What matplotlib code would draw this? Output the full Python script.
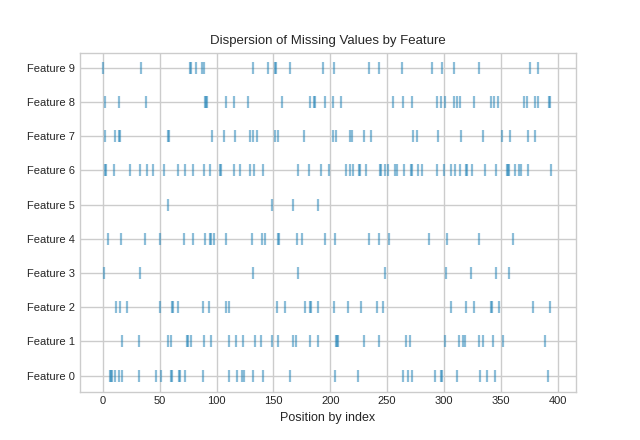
import matplotlib
matplotlib.use("Agg")
import matplotlib.pyplot as plt

features = [f"Feature {i}" for i in range(10)]

missing_0 = [6, 7, 8, 11, 14, 17, 32, 47, 51, 60, 61, 67, 68, 72, 88, 111, 118, 122, 124,
             132, 141, 165, 204, 224, 264, 268, 272, 292, 297, 298, 311, 332, 338, 345, 391]
missing_1 = [17, 32, 57, 60, 74, 75, 78, 89, 95, 111, 117, 123, 134, 139, 149, 154, 167, 170,
             182, 189, 205, 206, 207, 230, 243, 267, 270, 301, 313, 317, 318, 331, 334, 343, 352, 389]
missing_2 = [12, 15, 21, 50, 61, 62, 66, 88, 93, 108, 111, 153, 160, 178, 182, 183, 189, 203,
             216, 227, 241, 246, 306, 319, 326, 341, 342, 348, 378, 393]
missing_3 = [1, 33, 132, 172, 248, 302, 324, 346, 357]
missing_4 = [5, 16, 37, 50, 71, 79, 90, 94, 95, 98, 108, 131, 140, 143, 154, 155, 171, 175,
             195, 204, 234, 243, 252, 287, 303, 331, 361]
missing_5 = [57, 149, 167, 189]
missing_6 = [2, 3, 10, 24, 33, 39, 44, 54, 66, 72, 79, 89, 94, 103, 104, 115, 121, 129, 133,
             141, 172, 181, 192, 199, 214, 217, 220, 225, 226, 231, 244, 245, 248, 251, 257,
             259, 265, 271, 272, 277, 281, 294, 300, 306, 310, 314, 319, 320, 325, 336, 346,
             355, 356, 357, 362, 366, 368, 374, 394]
missing_7 = [2, 11, 14, 15, 57, 58, 96, 107, 116, 129, 132, 136, 151, 154, 177, 202, 205,
             217, 219, 230, 236, 273, 276, 295, 315, 334, 351, 358, 374, 380]
missing_8 = [2, 14, 38, 90, 91, 92, 108, 115, 128, 158, 182, 186, 187, 195, 202, 209, 255,
             264, 272, 294, 297, 301, 309, 311, 314, 326, 341, 344, 347, 370, 373, 380, 383,
             392, 393]
missing_9 = [0, 34, 77, 78, 82, 87, 89, 132, 145, 151, 152, 165, 194, 203, 234, 243, 263,
             289, 298, 309, 331, 376, 383]

missing = [missing_0, missing_1, missing_2, missing_3, missing_4,
           missing_5, missing_6, missing_7, missing_8, missing_9]

plt.style.use("seaborn-v0_8-whitegrid")
fig, ax = plt.subplots(figsize=(6.4, 4.4), dpi=100)
fig.subplots_adjust(left=0.125, right=0.9, top=0.88, bottom=0.11)

for i, idx in enumerate(missing):
    ax.scatter(idx, [i] * len(idx), marker="|", s=70, linewidths=1.6,
               color="#1a7fb5", alpha=0.5)

ax.set_yticks(range(len(features)))
ax.set_yticklabels(features)
ax.set_xlim(-20, 416)
ax.set_ylim(-0.47, 9.44)
ax.set_xlabel("Position by index", fontsize=9)
ax.set_title("Dispersion of Missing Values by Feature", fontsize=9.5)
ax.grid(True, color="#cccccc", linewidth=1)
for s in ax.spines.values():
    s.set_visible(True)
    s.set_color("#cccccc")
ax.tick_params(length=0, labelsize=8)

fig.savefig("out.png", dpi=100)
